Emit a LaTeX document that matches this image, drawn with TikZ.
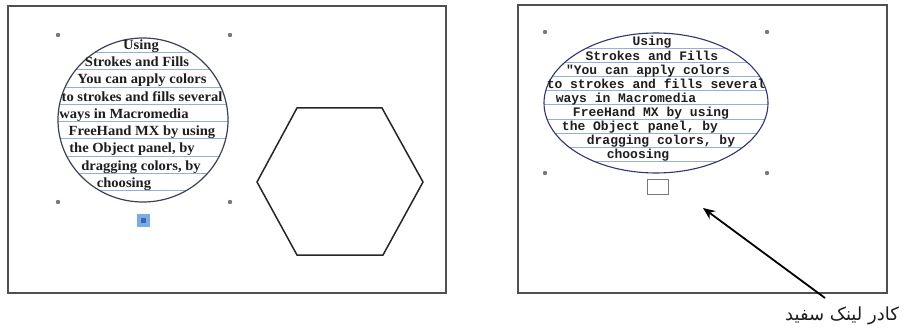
\documentclass[tikz,border=0pt]{standalone}
\usepackage{graphicx}
\usepackage{fontspec}
\setmainfont{Liberation Serif}
\newfontfamily\monofont{Liberation Mono}
\newfontfamily\arabicfont[Script=Arabic]{DejaVu Sans}
\TeXXeTstate=1
\usetikzlibrary{arrows.meta}
\definecolor{framec}{RGB}{80,80,80}
\definecolor{txtc}{RGB}{30,30,30}
\definecolor{rulec}{RGB}{150,175,210}
\definecolor{handlec}{RGB}{120,120,120}
\definecolor{selblue}{RGB}{120,175,225}
\definecolor{outlc}{RGB}{60,65,85}
\newcommand{\lsq}[1]{\scalebox{1.04}[1]{#1}}
\tikzset{
  framebox/.style={draw=framec, line width=1.8pt},
  handle/.style={fill=handlec, draw=none},
  lefttext/.style={inner sep=0pt, anchor=base, text=txtc, font=\fontsize{14}{14}\selectfont\bfseries},
  righttext/.style={inner sep=0pt, anchor=base, text=txtc, font=\monofont\fontsize{13}{13}\selectfont\bfseries},
  ruleline/.style={draw=rulec, line width=0.8pt},
  pointer/.style={draw=black, line width=1.8pt, -{Stealth[length=12pt,width=10pt]}},
  caption/.style={inner sep=0pt, font=\arabicfont\fontsize{18}{18}\selectfont, text=txtc}
}
\begin{document}
\begin{tikzpicture}[x=1pt,y=-1pt]
\useasboundingbox (0,0) rectangle (907,331);
\fill[white] (0,0) rectangle (907,331);
% frames
\draw[framebox] (8,6) rectangle (446,293);
\draw[framebox] (518,5) rectangle (887,293);

% ---------- left panel ----------
\begin{scope}
\clip (143,120) ellipse [x radius=85, y radius=82];
\foreach \yy in {52.5,69.75,87,104.25,121.5,138.75,156,173.25,190.5}
  \draw[ruleline] (40,\yy) -- (250,\yy);
\end{scope}
\draw[outlc, line width=1.2pt] (143,120) ellipse [x radius=85, y radius=82];
\node[lefttext] (L1) at (141,49.5) {\lsq{Using}};
\node[lefttext] (L2) at (137,66.75) {\lsq{Strokes and Fills}};
\node[lefttext] (L3) at (142,84) {\lsq{You can apply colors}};
\node[lefttext] (L4) at (142,101.25) {\lsq{to strokes and fills several}};
\node[lefttext] (L5) at (124,118.5) {\lsq{ways in Macromedia}};
\node[lefttext] (L6) at (142,135.75) {\lsq{FreeHand MX by using}};
\node[lefttext] (L7) at (132,153) {\lsq{the Object panel, by}};
\node[lefttext] (L8) at (141,170.25) {\lsq{dragging colors, by}};
\node[lefttext] (L9) at (124,187.5) {\lsq{choosing}};
\foreach \hx/\hy in {58/35,230/35,58/202,230/202}
  \fill[handle] (\hx,\hy) circle (2.2pt);
\fill[selblue] (137,214) rectangle (150,227);
\fill[selblue!70!blue!80!black] (141,218) rectangle (146,223);
% hexagon
\draw[black!85, line width=1.5pt] (297,108) -- (382,108) -- (423,182) -- (383,255) -- (297,255) -- (257,182) -- cycle;

% ---------- right panel ----------
\begin{scope}
\clip (656,103) ellipse [x radius=112, y radius=70];
\foreach \yy in {48.5,62.6,76.7,90.8,104.9,119,133.1,147.2,161.3}
  \draw[ruleline] (530,\yy) -- (780,\yy);
\end{scope}
\draw[outlc!80!blue, line width=1.1pt] (656,103) ellipse [x radius=112, y radius=70];
\node[righttext] (R1) at (652,46) {Using};
\node[righttext] (R2) at (652,60.1) {Strokes and Fills};
\node[righttext] (R3) at (648,74.2) {"You can apply colors};
\node[righttext] (R4) at (656,88.3) {to strokes and fills several};
\node[righttext] (R5) at (626,102.4) {ways in Macromedia};
\node[righttext] (R6) at (651,116.5) {FreeHand MX by using};
\node[righttext] (R7) at (640,130.6) {the Object panel, by};
\node[righttext] (R8) at (661,144.7) {dragging colors, by};
\node[righttext] (R9) at (638,158.8) {choosing};
\foreach \hx/\hy in {545/32,767/32,545/173,767/173}
  \fill[handle] (\hx,\hy) circle (2.2pt);
\node[draw=handlec, line width=0.9pt, fill=white, minimum width=21pt, minimum height=15pt, inner sep=0pt] (wbox) at (658,187) {};

% caption and pointer
\node[caption] (cap) at (842,316) {\beginR کادر لینک سفید\endR};
\coordinate (tail) at (825,298);
\coordinate (tip) at (703,208);
\draw[pointer] (tail) -- (tip);
\end{tikzpicture}
\end{document}
